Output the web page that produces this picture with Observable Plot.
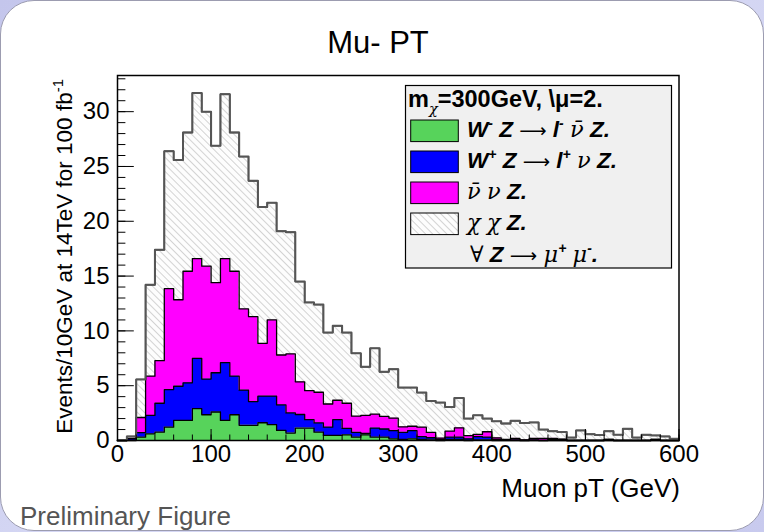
<!DOCTYPE html>
<html><head><meta charset="utf-8">
<script src="https://cdn.jsdelivr.net/npm/d3@7"></script>
<script src="https://cdn.jsdelivr.net/npm/@observablehq/plot@0.6"></script>
<style>
html,body{margin:0;padding:0;background:#fff;}
#page{position:relative;width:764px;height:532px;overflow:hidden;background:linear-gradient(135deg,#c4c6ec 0%,#d6d8f4 50%,#c8caee 100%);}
#panel{position:absolute;left:0;top:0;width:762px;height:529px;border:1px solid #9c9cb0;border-radius:34px;background:#fff;}
#chart{position:absolute;left:0;top:0;}
</style></head><body>
<div id="page"><div id="panel"></div><div id="chart"></div></div>
<script>
// ---- data (events per 10 GeV bin) ----
const binStart = [0,10,20,30,40,50,60,70,80,90,100,110,120,130,140,150,160,170,180,190,
  200,210,220,230,240,250,260,270,280,290,300,310,320,330,340,350,360,370,380,390,
  400,410,420,430,440,450,460,470,480,490,500,510,520,530,540,550,560,570,580,590];
const xMax = 600;
const wMinusZ = [0,0,0.3,0.6,0.76,1.22,1.83,1.83,2.9,2.35,
  2.6,1.83,2.35,1.38,1.38,1.62,1.44,0.92,0.68,1.13,
  1.13,0.76,0.46,0.46,0.52,0.3,0.52,0.3,0.3,0.15,
  0.1,0.15,0.1,0.05,0,0.1,0.1,0,0.05,0.05,
  0,0,0,0,0,0,0,0,0,0,
  0,0,0,0,0,0,0,0,0,0];
const wPlusZ = [0,0.15,0.42,1.69,2.64,3.43,3.12,3.43,4.59,3.25,
  3.58,5.27,3.52,3.21,2.17,2.42,2.6,2.33,1.84,1.24,
  0.77,0.84,0.76,1.44,0.58,0.45,0.13,0.83,0.75,0.75,
  0.65,0.75,0.25,0.2,0.1,0.2,0.2,0.15,0.3,0.25,
  0.1,0.05,0.05,0,0.05,0,0.1,0.1,0,0,
  0,0,0.1,0,0,0,0,0.1,0,0];
const nunuZ = [0,0.05,1.38,3.58,3.88,9.2,7.89,10.18,9.11,10.3,
  8.22,9.5,9.57,7.41,7.75,4.83,6.96,4.55,5.38,2.98,
  2.65,2.8,2.11,1.77,2.3,1.47,1.65,1.27,1.15,1.15,
  0.5,0.4,0.87,0.49,0.12,0.55,0.86,0.3,0.2,0.5,
  0.14,0.05,0.15,0.05,0.15,0.2,0.1,0.02,0,0,
  0,0,0,0,0,0,0,0,0,0];
const chichiZ = [0,0.17,3.47,8.33,10.12,12.55,12.76,12.66,15.1,14.1,
  12.5,15.0,12.66,13.9,12.4,12.43,10.7,11.3,11.1,9.15,
  8.05,8.0,6.52,6.79,6.45,5.73,4.43,6.01,4.07,4.46,
  3.58,3.53,3.15,2.87,3.24,2.21,2.72,1.55,1.75,1.2,
  1.51,1.45,1.6,1.55,1.45,0.8,0.65,0.66,0.27,0.92,
  0.57,0.5,0.75,0.53,1.07,0.27,0.52,0.36,0.37,0.15];
const seriesNames = ["W-Z", "W+Z", "nunuZ", "chichiZ"];
const seriesFills = ["#57d35b", "#0000ff", "#ff00ff", "url(#hatch)"];
const xMajorTicks = [0,100,200,300,400,500,600];
const xMinorTicks = [0,20,40,60,80,100,120,140,160,180,200,220,240,260,280,300,320,340,360,380,400,420,440,460,480,500,520,540,560,580,600];
const yMajorTicks = [0,5,10,15,20,25,30];
const yMinorTicks = [0,1,2,3,4,5,6,7,8,9,10,11,12,13,14,15,16,17,18,19,20,21,22,23,24,25,26,27,28,29,30,31,32,33];
const titleText = "Mu- PT";
const xTitle = "Muon pT (GeV)";
const yTitle = "Events/10GeV at 14TeV for 100 fb";
const footer = "Preliminary Figure";

// ---- table for Plot ----
const seriesValues = [wMinusZ, wPlusZ, nunuZ, chichiZ];
const rows = [];
binStart.concat([xMax]).forEach((x, i) => {
  const j = Math.min(i, binStart.length - 1);
  seriesNames.forEach((s, k) => rows.push({x, series: s, value: seriesValues[k][j]}));
});

const FONT = "'Liberation Sans', Arial, Helvetica, sans-serif";
const SERIF = "'DejaVu Serif', 'Liberation Serif', serif";

const chart = Plot.plot({
  width: 764, height: 532,
  marginLeft: 117, marginRight: 85.5, marginTop: 75, marginBottom: 92,
  style: {background: "transparent", fontFamily: FONT, overflow: "visible"},
  x: {domain: [0, xMax]},
  y: {domain: [0, 33.3]},
  color: {domain: seriesNames, range: seriesFills},
  marks: [
    Plot.areaY(rows, {x: "x", y: "value", z: "series", fill: "series", curve: "step-after"}),
    Plot.lineY(rows, Plot.stackY2({x: "x", y: "value", z: "series", curve: "step-after", stroke: "black", strokeWidth: 1.3})),
    Plot.lineY(rows, Plot.groupX({y: "sum"}, {x: "x", y: "value", curve: "step-after", stroke: "#555", strokeWidth: 2})),
    Plot.frame({stroke: "black", strokeWidth: 1.5}),
    Plot.axisX({ticks: xMinorTicks, tickSize: -5.5, tickFormat: () => "", label: null}),
    Plot.axisX({ticks: xMajorTicks, tickSize: -11, tickFormat: () => "", label: null}),
    Plot.axisX({ticks: xMajorTicks, tickSize: 0, tickPadding: 4, fontSize: 24, label: null, fill: "black"}),
    Plot.axisY({ticks: yMinorTicks, tickSize: -8.4, tickFormat: () => "", label: null}),
    Plot.axisY({ticks: yMajorTicks, tickSize: -16.8, tickFormat: () => "", label: null}),
    Plot.axisY({ticks: yMajorTicks, tickSize: 0, tickPadding: 8, fontSize: 24, label: null, fill: "black"})
  ]
});
document.getElementById("chart").appendChild(chart);

const svg = d3.select(chart);
const defs = svg.insert("defs", ":first-child");
const pat = defs.append("pattern").attr("id", "hatch").attr("patternUnits", "userSpaceOnUse")
  .attr("width", 5).attr("height", 5).attr("patternTransform", "rotate(-45)");
pat.append("rect").attr("width", 5).attr("height", 5).attr("fill", "#fdfdfd");
pat.append("line").attr("x1", 0.5).attr("y1", 0).attr("x2", 0.5).attr("y2", 5).attr("stroke", "#c6c6c6").attr("stroke-width", 0.75);

const ann = svg.append("g").attr("font-family", FONT).attr("fill", "black");
ann.append("text").attr("x", 378).attr("y", 53).attr("text-anchor", "middle").attr("font-size", 31).text(titleText);
ann.append("text").attr("x", 680).attr("y", 497).attr("text-anchor", "end").attr("font-size", 26).text(xTitle);
const yt = ann.append("text").attr("transform", "translate(72,79) rotate(-90)").attr("text-anchor", "end").attr("font-size", 22.5);
yt.append("tspan").text(yTitle);
yt.append("tspan").attr("font-size", 15).attr("dy", -9).text("-1");
ann.append("text").attr("x", 20).attr("y", 525).attr("text-anchor", "start").attr("font-size", 26).attr("fill", "#555").text(footer);

// ---- legend ----
function rich(g, x, y, parts, size) {
  const t = g.append("text").attr("x", x).attr("y", y).attr("font-size", size)
    .attr("text-anchor", "start").style("white-space", "pre");
  let shift = 0;
  for (const [str, kind] of parts) {
    const ts = t.append("tspan").text(str);
    let target = 0;
    if (kind === "sup") { target = -0.42 * size; ts.attr("font-size", size * 0.62).attr("font-weight", "bold").attr("font-style", "italic"); }
    else if (kind === "sub") { target = 0.3 * size; ts.attr("font-size", size * 0.62).attr("font-family", SERIF).attr("font-style", "italic"); }
    else if (kind === "b") ts.attr("font-weight", "bold").attr("font-style", "italic");
    else if (kind === "B") ts.attr("font-weight", "bold");
    else if (kind === "g") ts.attr("font-family", SERIF).attr("font-style", "italic");
    else if (kind === "a") ts.attr("font-family", "'DejaVu Sans', sans-serif").attr("font-size", size * 0.85);
    if (target !== shift) { ts.attr("dy", target - shift); shift = target; }
  }
}
const lg = svg.append("g").attr("font-family", FONT).attr("text-anchor", "start");
lg.append("rect").attr("x", 405.5).attr("y", 85.5).attr("width", 266).attr("height", 182.5)
  .attr("fill", "#f0f0f0").attr("stroke", "black").attr("stroke-width", 1.2);
rich(lg, 408, 107, [["m", "B"], ["χ", "sub"], ["=300GeV, \\μ=2.", "B"]], 23.5);
const legendRows = [
  [["W", "b"], ["-", "sup"], [" Z ", "b"], ["⟶", "a"], [" l", "b"], ["-", "sup"], [" ", "b"], ["ν̄", "g"], [" Z.", "b"]],
  [["W", "b"], ["+", "sup"], [" Z ", "b"], ["⟶", "a"], [" l", "b"], ["+", "sup"], [" ", "b"], ["ν", "g"], [" Z.", "b"]],
  [["ν̄", "g"], [" ", "b"], ["ν", "g"], [" Z.", "b"]],
  [["χ", "g"], [" ", "b"], ["χ", "g"], [" Z.", "b"]]
];
const boxTops = [120, 151, 182, 213];
const baselines = [137, 168, 199, 230];
seriesNames.forEach((s, i) => {
  lg.append("rect").attr("x", 410.7).attr("y", boxTops[i]).attr("width", 47.6).attr("height", 21.6)
    .attr("fill", seriesFills[i]).attr("stroke", "black").attr("stroke-width", 1);
  rich(lg, 467, baselines[i], legendRows[i], 22.5);
});
rich(lg, 470, 262, [["∀", "g"], [" Z ", "b"], ["⟶", "a"], [" ", "b"], ["μ", "g"], ["+", "sup"], [" ", "b"], ["μ", "g"], ["-", "sup"], [".", "b"]], 22.5);
</script></body></html>
